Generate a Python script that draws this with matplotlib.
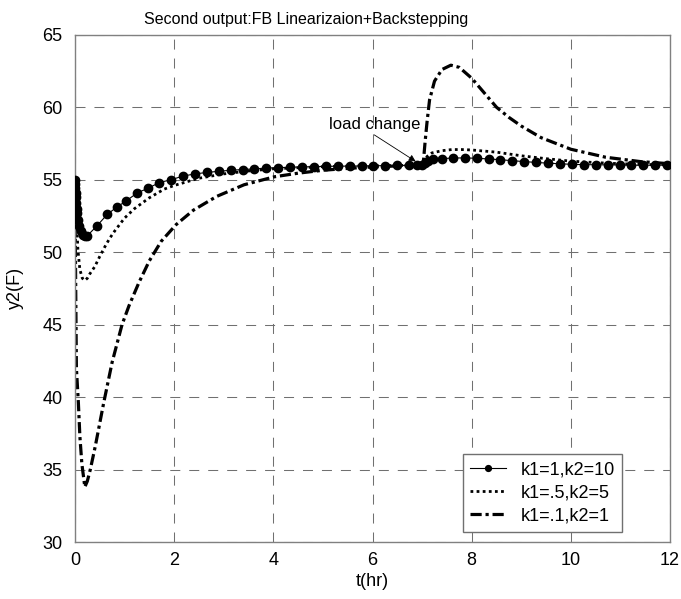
import numpy as np
import matplotlib
matplotlib.use("Agg")
import matplotlib.pyplot as plt

plt.rcParams['font.family'] = ['Liberation Sans', 'DejaVu Sans']

# k1=1, k2=10 (dots)
t1 = [0, 0.005, 0.01, 0.015, 0.02, 0.03, 0.04, 0.05, 0.07, 0.09, 0.12, 0.16, 0.2, 0.24,
      0.44, 0.65, 0.84, 1.04, 1.26, 1.47, 1.7, 1.94, 2.18, 2.42, 2.66, 2.9, 3.14, 3.38,
      3.62, 3.86, 4.1, 4.34, 4.58, 4.82, 5.06, 5.3, 5.54, 5.78, 6.02, 6.26, 6.5, 6.74,
      6.9, 7.0, 7.05, 7.12, 7.22, 7.4, 7.62, 7.86, 8.1, 8.34, 8.58, 8.82, 9.06, 9.3,
      9.54, 9.78, 10.02, 10.26, 10.5, 10.74, 10.98, 11.22, 11.46, 11.7, 11.94]
y1 = [55.0, 54.7, 54.4, 54.1, 53.8, 53.4, 53.0, 52.7, 52.2, 51.8, 51.45, 51.2, 51.1, 51.1,
      51.8, 52.6, 53.1, 53.55, 54.1, 54.4, 54.8, 55.0, 55.25, 55.4, 55.5, 55.58, 55.65, 55.7,
      55.75, 55.8, 55.83, 55.86, 55.88, 55.9, 55.92, 55.93, 55.94, 55.95, 55.96, 55.97, 55.98, 55.99,
      56.0, 56.0, 56.15, 56.3, 56.4, 56.45, 56.5, 56.5, 56.48, 56.43, 56.38, 56.31, 56.25, 56.19,
      56.14, 56.1, 56.06, 56.04, 56.03, 56.02, 56.01, 56.0, 56.0, 56.0, 56.0]

# k1=.5, k2=5 (dotted)
t2 = [0, 0.03, 0.06, 0.1, 0.15, 0.2, 0.25, 0.3, 0.4, 0.5, 0.6, 0.7, 0.8, 1.0, 1.2, 1.5,
      1.8, 2.0, 2.5, 3.0, 3.5, 4, 5, 6, 7, 7.05, 7.1, 7.2, 7.4, 7.6, 7.8, 8.0, 8.5, 9,
      9.5, 10, 10.5, 11, 11.5, 12]
y2 = [55, 52.5, 50.2, 48.8, 48.2, 48.05, 48.2, 48.5, 49.0, 49.7, 50.35, 50.95, 51.45, 52.35, 53.0, 53.75,
      54.35, 54.6, 55.1, 55.4, 55.6, 55.75, 55.9, 55.97, 56.0, 56.3, 56.6, 56.85, 57.0, 57.08, 57.08,
      57.05, 56.9, 56.65, 56.45, 56.28, 56.18, 56.1, 56.05, 56.02]

# k1=.1, k2=1 (dash-dot)
t3 = [0, 0.01, 0.03, 0.07, 0.1, 0.14, 0.2, 0.25, 0.31, 0.41, 0.58, 0.75, 0.95, 1.09,
      1.29, 1.5, 1.74, 2.04, 2.39, 2.86, 3.41, 4.02, 4.5, 5.0, 5.5, 6.0, 6.5, 7.0, 7.03, 7.06,
      7.1, 7.15, 7.25, 7.4, 7.58, 7.75, 8.0, 8.25, 8.5, 8.75, 9.0, 9.4, 10.0, 10.7, 11.4, 12.0]
y3 = [55, 50, 42, 39.6, 37.3, 35.4, 33.8, 34.2, 35.0, 36.6, 39.6, 42.4, 45.0, 46.3,
      47.9, 49.4, 50.75, 51.9, 52.9, 53.85, 54.65, 55.2, 55.45, 55.65, 55.78, 55.88, 55.95, 56.0, 56.4, 57.6,
      59.0, 60.5, 61.8, 62.6, 62.9, 62.75, 62.0, 61.0, 60.0, 59.3, 58.7, 57.9, 57.1, 56.55, 56.25, 56.1]

labels = ['k1=1,k2=10', 'k1=.5,k2=5', 'k1=.1,k2=1']
xticks = [0, 2, 4, 6, 8, 10, 12]
yticks = [30, 35, 40, 45, 50, 55, 60, 65]

fig = plt.figure(figsize=(6.81, 5.99), dpi=100)
ax = fig.add_axes([0.110, 0.095, 0.874, 0.847])

ax.plot(t1, y1, color='black', lw=0.8, marker='o', ms=6, label=labels[0], zorder=3)
ax.plot(t2, y2, color='black', lw=2.0, linestyle=(0, (1, 1.2)), label=labels[1])
ax.plot(t3, y3, color='black', lw=2.3, linestyle=(0, (3.5, 1.2, 1, 1.2)), label=labels[2])

ax.set_xlim(0, 12)
ax.set_ylim(30, 65)
ax.set_xticks(xticks)
ax.set_yticks(yticks)
ax.tick_params(labelsize=13, length=0)
ax.tick_params(axis='y', pad=9)
ax.tick_params(axis='x', pad=7)
ax.grid(True, color='#707070', lw=0.75, linestyle=(0, (9.6, 8.6)))
for s in ax.spines.values():
    s.set_color('#808080')
    s.set_linewidth(1.0)

# title sits left of the axes centre in the original
ax.set_title('Second output:FB Linearizaion+Backstepping', fontsize=11.5, pad=8, x=0.388)
ax.set_xlabel('t(hr)', fontsize=13, labelpad=3)
ax.set_ylabel('y2(F)', fontsize=13, labelpad=13)

ax.annotate('load change', xy=(6.87, 56.26), xytext=(5.12, 58.8), fontsize=12,
            va='center', ha='left',
            arrowprops=dict(arrowstyle='-|>', color='black', lw=0.6, mutation_scale=10,
                            shrinkA=0, shrinkB=0, relpos=(0.45, 0.0)))

leg = ax.legend(loc='lower right', bbox_to_anchor=(0.919, 0.02), borderaxespad=0,
                fontsize=13, fancybox=False, framealpha=1, edgecolor='#707070',
                handlelength=2.0, handletextpad=0.8, labelspacing=0.35, markerscale=0.7)
leg.get_frame().set_linewidth(1.0)

fig.savefig('out.png', dpi=100)
